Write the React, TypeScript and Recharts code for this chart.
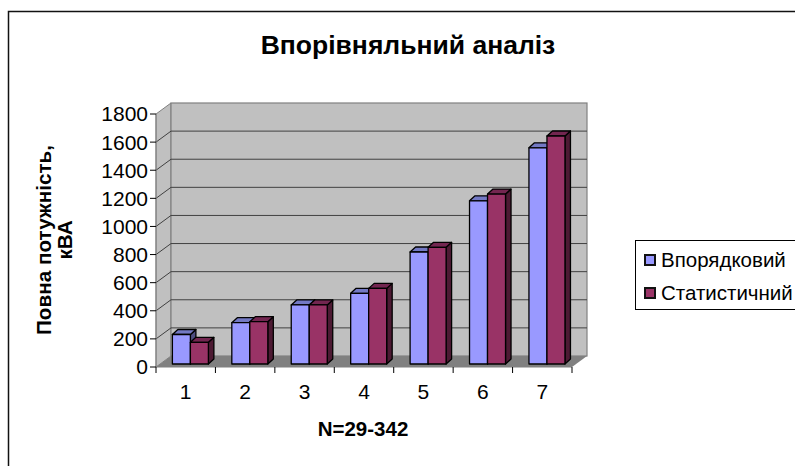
import { Bar, BarChart, Legend, XAxis, YAxis, usePlotArea } from "recharts";

const categories = ["1", "2", "3", "4", "5", "6", "7"];
const ordered = [210, 294, 420, 503, 797, 1161, 1538];
const statistical = [154, 301, 420, 538, 830, 1209, 1622];
const yTicks = [0, 200, 400, 600, 800, 1000, 1200, 1400, 1600, 1800];

const SERIES_A = "Впорядковий";
const SERIES_B = "Статистичний";
const FONT = "'Liberation Sans', Arial, sans-serif";

const chartData = categories.map((name, i) => ({
  name,
  [SERIES_A]: ordered[i],
  [SERIES_B]: statistical[i],
}));

// depth of the fake 3D box, and how far the bars sit inside it
const WALL_DX = 15;
const WALL_DY = -11;
const BAR_DX = 4.5;
const BAR_DY = -3;
const BAR_SIDE_DX = 5.5;
const BAR_SIDE_DY = -5;

function Walls() {
  const plot = usePlotArea();
  if (!plot) return null;
  const { x, y, width, height } = plot;
  const bottom = y + height;
  const right = x + width;
  const yOf = (v: number) => bottom - (v / 1800) * height;

  return (
    <g>
      <rect x={8.5} y={11.5} width={810} height={480} fill="#fff" stroke="#111" strokeWidth={1.5} />
      <polygon
        points={`${x},${y} ${x + WALL_DX},${y + WALL_DY} ${x + WALL_DX},${bottom + WALL_DY} ${x},${bottom}`}
        fill="#c0c0c0"
        stroke="#808080"
      />
      <rect
        x={x + WALL_DX}
        y={y + WALL_DY}
        width={width}
        height={height}
        fill="#c0c0c0"
        stroke="#808080"
        strokeWidth={1.2}
      />
      <polygon
        points={`${x},${bottom} ${x + WALL_DX},${bottom + WALL_DY} ${right + WALL_DX},${bottom + WALL_DY} ${right},${bottom}`}
        fill="#808080"
      />
      {yTicks.slice(1, -1).map((t) => (
        <polyline
          key={t}
          points={`${x},${yOf(t)} ${x + WALL_DX},${yOf(t) + WALL_DY} ${right + WALL_DX},${yOf(t) + WALL_DY}`}
          fill="none"
          stroke="#404040"
        />
      ))}
      <line x1={x} y1={bottom} x2={right} y2={bottom} stroke="#808080" />
      <line x1={x} y1={y} x2={x} y2={bottom} stroke="#808080" />
      {categories.map((c, i) => (
        <line
          key={c}
          x1={x + (i * width) / categories.length}
          x2={x + (i * width) / categories.length}
          y1={bottom}
          y2={bottom + 6}
          stroke="#000"
        />
      ))}
      <line x1={right} x2={right} y1={bottom} y2={bottom + 6} stroke="#000" />
    </g>
  );
}

function Bar3D(props: any) {
  const { x, y, width, height, fill, top, side } = props;
  const l = x + BAR_DX;
  const r = l + width;
  const t = y + BAR_DY;
  const b = t + height;
  return (
    <g stroke="#000" strokeWidth={1.3} strokeLinejoin="round">
      <polygon
        points={`${r},${t} ${r + BAR_SIDE_DX},${t + BAR_SIDE_DY} ${r + BAR_SIDE_DX},${b + BAR_SIDE_DY} ${r},${b}`}
        fill={side}
      />
      <polygon
        points={`${l},${t} ${l + BAR_SIDE_DX},${t + BAR_SIDE_DY} ${r + BAR_SIDE_DX},${t + BAR_SIDE_DY} ${r},${t}`}
        fill={top}
      />
      <rect x={l} y={t} width={width} height={height} fill={fill} />
    </g>
  );
}

function LegendBox() {
  const rows = [
    { label: SERIES_A, color: "#9999ff" },
    { label: SERIES_B, color: "#993366" },
  ];
  return (
    <div
      style={{
        width: 180,
        height: 70,
        boxSizing: "border-box",
        border: "1px solid #000",
        background: "#fff",
        fontFamily: FONT,
        fontSize: 20.5,
        paddingTop: 2,
        whiteSpace: "nowrap",
      }}
    >
      {rows.map((row) => (
        <div key={row.label} style={{ display: "flex", alignItems: "center", height: 33 }}>
          <span
            style={{
              boxSizing: "border-box",
              width: 12,
              height: 12,
              marginLeft: 8,
              marginRight: 5,
              background: row.color,
              border: "2px solid #111",
            }}
          />
          {row.label}
        </div>
      ))}
    </div>
  );
}

function YLabel() {
  return (
    <g fontFamily={FONT} fontSize={20.7} fontWeight="bold" fill="#000" textAnchor="middle">
      <text transform="translate(51,240) rotate(-90)">Повна потужність,</text>
      <text transform="translate(72,240) rotate(-90)">кВА</text>
    </g>
  );
}

export default function App() {
  return (
    <div style={{ position: "absolute", left: 0, top: 0, width: 795, height: 466, overflow: "hidden" }}>
      <BarChart
        width={795}
        height={466}
        data={chartData}
        margin={{ top: 114, right: 43, bottom: 69, left: 96 }}
        barCategoryGap="20%"
        barGap={0}
      >
        <Walls />
        <text
          x={408}
          y={54}
          textAnchor="middle"
          fontFamily={FONT}
          fontSize={26.5}
          fontWeight="bold"
          fill="#000"
        >
          Впорівняльний аналіз
        </text>
        <YLabel />
        <text
          x={363}
          y={436}
          textAnchor="middle"
          fontFamily={FONT}
          fontSize={20.5}
          fontWeight="bold"
          fill="#000"
        >
          N=29-342
        </text>
        <XAxis
          dataKey="name"
          height={30}
          tickLine={false}
          axisLine={false}
          tick={{ fill: "#000", fontFamily: FONT, fontSize: 21 }}
          tickMargin={11}
        />
        <YAxis
          width={60}
          domain={[0, 1800]}
          ticks={yTicks}
          interval={0}
          axisLine={false}
          tickSize={6}
          tick={{ fill: "#000", fontFamily: FONT, fontSize: 21 }}
          tickLine={{ stroke: "#000" }}
        />
        <Legend
          layout="vertical"
          align="right"
          verticalAlign="middle"
          content={<LegendBox />}
          wrapperStyle={{ left: 635, right: "auto", top: 240, width: 180 }}
        />
        <Bar
          dataKey={SERIES_A}
          fill="#9999ff"
          isAnimationActive={false}
          shape={(p: any) => <Bar3D {...p} top="#7379c4" side="#4d4d80" />}
        />
        <Bar
          dataKey={SERIES_B}
          fill="#993366"
          isAnimationActive={false}
          shape={(p: any) => <Bar3D {...p} top="#732650" side="#4d1a33" />}
        />
      </BarChart>
    </div>
  );
}
